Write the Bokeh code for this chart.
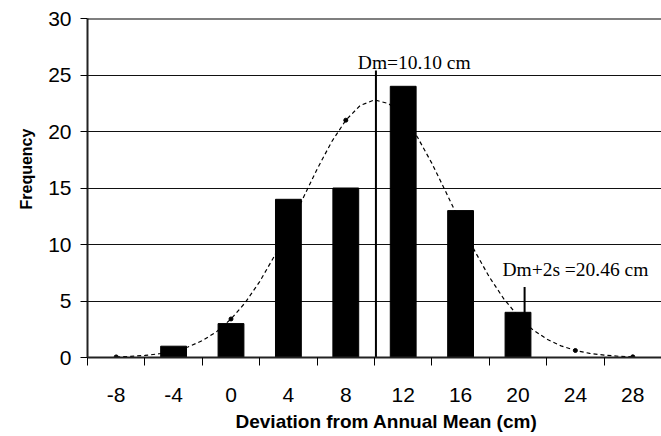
from bokeh.plotting import figure
from bokeh.models import Range1d, FixedTicker, Label, Span, Title
from bokeh.embed import file_html
from bokeh.resources import INLINE

# Data
categories = [-8, -4, 0, 4, 8, 12, 16, 20, 24, 28]
tick_labels = ["-8", "-4", "0", "4", "8", "12", "16", "20", "24", "28"]
frequency = [0, 1, 3, 14, 15, 24, 13, 4, 0, 0]

# fitted normal curve (at 1 cm steps)
curve_x = list(range(-8, 29))
curve_y = [0.05, 0.10, 0.18, 0.33, 0.56, 0.93, 1.49, 2.29, 3.41, 4.87, 6.72, 8.92,
           11.40, 14.04, 16.67, 19.06, 21.0, 22.3, 22.8, 22.46, 21.32, 19.49, 17.18,
           14.58, 11.92, 9.39, 7.13, 5.21, 3.67, 2.49, 1.63, 1.03, 0.62, 0.36, 0.21,
           0.11, 0.06]
curve_pts_y = [0.05, 0.56, 3.41, 11.40, 21.0, 21.32, 11.92, 3.67, 0.62, 0.06]

mean_dev = 10.10
mean_plus_2s = 20.46
marker_lines_x = [mean_dev, mean_plus_2s]
marker_lines_top = [25.4, 6.25]
marker_labels = ["Dm=10.10 cm", "Dm+2s =20.46 cm"]
x_title = "Deviation from Annual Mean (cm)"
y_title = "Frequency"

y_ticks = [0, 5, 10, 15, 20, 25, 30]
bin_edges = [-10, -6, -2, 2, 6, 10, 14, 18, 22, 26, 30]

p = figure(width=661, height=436, output_backend="svg", toolbar_location=None,
           x_range=Range1d(-10, 30), y_range=Range1d(0, 30),
           min_border_left=87, min_border_right=0, min_border_top=18, min_border_bottom=78)
p.outline_line_color = None
p.background_fill_color = "white"

# grid
p.xgrid.visible = False
p.ygrid.ticker = FixedTicker(ticks=y_ticks[1:])
p.ygrid.grid_line_color = "#111111"
p.ygrid.grid_line_width = 1
p.add_layout(Span(location=y_ticks[-1], dimension="width", line_color="black", line_width=2))

# bars
p.vbar(x=categories, top=frequency, width=1.8, fill_color="black", line_color="black")

# normal curve
p.line(curve_x, curve_y, line_color="black", line_width=1.2, line_dash="4 3")
p.scatter(categories, curve_pts_y, size=4, color="black")

# marker lines
p.segment(x0=marker_lines_x, y0=[0, 0], x1=marker_lines_x, y1=marker_lines_top,
          line_color="black", line_width=2)

p.add_layout(Label(x=12.77, y=26.1, text=marker_labels[0], text_align="center",
                   text_baseline="alphabetic", text_font="Liberation Serif",
                   text_font_size="19.5px", text_color="black"))
p.add_layout(Label(x=24.0, y=7.78, text=marker_labels[1], text_align="center",
                   text_baseline="alphabetic", text_font="Liberation Serif",
                   text_font_size="19.5px", text_color="black"))

# axis titles as side titles (offset as in reference)
p.add_layout(Title(text=x_title, align="left", offset=148, standoff=9,
                   text_font="Liberation Sans", text_font_style="bold",
                   text_font_size="19px", text_color="black"), "below")
p.add_layout(Title(text=y_title, align="left", offset=148, standoff=21,
                   text_font="Liberation Sans", text_font_style="bold",
                   text_font_size="16px", text_color="black"), "left")

# x axis
xa = p.xaxis[0]
xa.ticker = FixedTicker(ticks=categories, minor_ticks=bin_edges)
xa.major_label_overrides = {c: t for c, t in zip(categories, tick_labels)}
xa.major_tick_line_color = None
xa.major_tick_out = 0
xa.major_tick_in = 0
xa.minor_tick_line_color = "black"
xa.minor_tick_line_width = 1
xa.minor_tick_out = 8
xa.minor_tick_in = 0
xa.major_label_standoff = 22
xa.major_label_text_font = "Liberation Sans"
xa.major_label_text_font_size = "21px"
xa.major_label_text_color = "black"
xa.axis_line_color = "#222222"
xa.axis_line_width = 2

# y axis
ya = p.yaxis[0]
ya.ticker = FixedTicker(ticks=y_ticks)
ya.minor_tick_line_color = None
ya.major_tick_out = 7
ya.major_tick_in = 0
ya.major_tick_line_color = "black"
ya.major_label_standoff = 9
ya.major_label_text_font = "Liberation Sans"
ya.major_label_text_font_size = "21px"
ya.major_label_text_color = "black"
ya.axis_line_color = "#222222"
ya.axis_line_width = 2

open("out.html", "w").write(file_html(p, INLINE))
